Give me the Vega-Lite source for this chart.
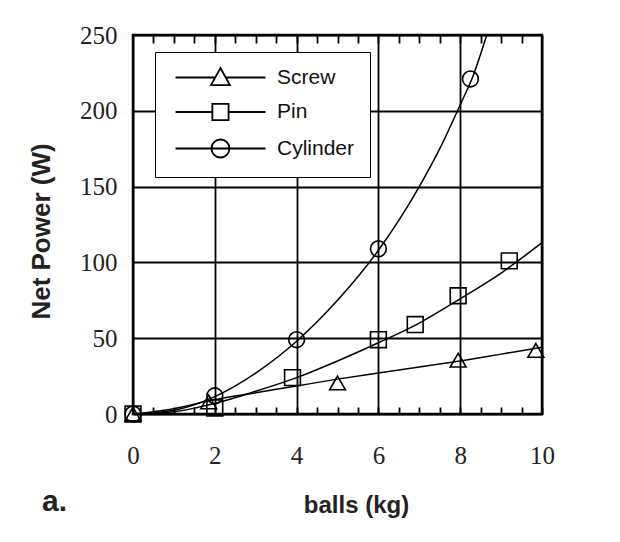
{
  "$schema": "https://vega.github.io/schema/vega-lite/v6.json",
  "autosize": {"type": "none"},
  "padding": {"left": 133, "top": 35, "right": 78, "bottom": 128},
  "width": 409,
  "height": 379,
  "background": "white",
  "title": {"text": "a.", "orient": "bottom", "anchor": "start", "frame": "group", "dx": -91, "offset": -30, "font": "Liberation Sans", "fontSize": 30, "fontWeight": "bold", "color": "#222"},
  "config": {
    "view": {"stroke": "black", "strokeWidth": 2.5},
    "axis": {"gridColor": "black", "gridWidth": 1.8, "domain": false, "labelFont": "Liberation Serif", "labelFontSize": 25, "labelColor": "#222", "titleFont": "Liberation Sans", "titleFontSize": 24, "titleFontWeight": "bold", "titleColor": "#222", "tickColor": "black", "tickWidth": 1.8}
  },
  "datasets": {
    "curves": [
      {"series": "Screw", "x": 0, "y": 0}, {"series": "Screw", "x": 1, "y": 3.5}, {"series": "Screw", "x": 2, "y": 9.5}, {"series": "Screw", "x": 3, "y": 14}, {"series": "Screw", "x": 4, "y": 18.5}, {"series": "Screw", "x": 5, "y": 23}, {"series": "Screw", "x": 6, "y": 27}, {"series": "Screw", "x": 7, "y": 31}, {"series": "Screw", "x": 8, "y": 35}, {"series": "Screw", "x": 9, "y": 39.5}, {"series": "Screw", "x": 10, "y": 44},
      {"series": "Pin", "x": 0, "y": 0}, {"series": "Pin", "x": 1, "y": 1.5}, {"series": "Pin", "x": 2, "y": 7}, {"series": "Pin", "x": 3, "y": 15}, {"series": "Pin", "x": 4, "y": 24}, {"series": "Pin", "x": 5, "y": 35}, {"series": "Pin", "x": 6, "y": 47}, {"series": "Pin", "x": 7, "y": 60}, {"series": "Pin", "x": 8, "y": 76}, {"series": "Pin", "x": 9, "y": 93}, {"series": "Pin", "x": 10, "y": 113},
      {"series": "Cylinder", "x": 0, "y": 0}, {"series": "Cylinder", "x": 1, "y": 2.5}, {"series": "Cylinder", "x": 2, "y": 11.5}, {"series": "Cylinder", "x": 3, "y": 27}, {"series": "Cylinder", "x": 4, "y": 48}, {"series": "Cylinder", "x": 5, "y": 75}, {"series": "Cylinder", "x": 6, "y": 108}, {"series": "Cylinder", "x": 7, "y": 150}, {"series": "Cylinder", "x": 7.5, "y": 175}, {"series": "Cylinder", "x": 8, "y": 204}, {"series": "Cylinder", "x": 8.3, "y": 222}, {"series": "Cylinder", "x": 8.65, "y": 250}
    ],
    "points": [
      {"series": "Screw", "x": 0, "y": 0}, {"series": "Screw", "x": 1.85, "y": 8}, {"series": "Screw", "x": 5, "y": 20.5}, {"series": "Screw", "x": 7.95, "y": 35.5}, {"series": "Screw", "x": 9.85, "y": 42},
      {"series": "Pin", "x": 0, "y": 0}, {"series": "Pin", "x": 2, "y": 4}, {"series": "Pin", "x": 3.9, "y": 24}, {"series": "Pin", "x": 6, "y": 49}, {"series": "Pin", "x": 6.9, "y": 59}, {"series": "Pin", "x": 7.95, "y": 78}, {"series": "Pin", "x": 9.2, "y": 101},
      {"series": "Cylinder", "x": 0, "y": 0}, {"series": "Cylinder", "x": 2, "y": 12}, {"series": "Cylinder", "x": 4, "y": 49}, {"series": "Cylinder", "x": 6, "y": 109}, {"series": "Cylinder", "x": 8.25, "y": 221}
    ]
  },
  "layer": [
    {
      "data": {"name": "curves"},
      "mark": {"type": "line", "color": "black", "strokeWidth": 1.5, "interpolate": "monotone"},
      "encoding": {
        "x": {"field": "x", "type": "quantitative", "scale": {"domain": [0, 10], "nice": false},
          "axis": {"orient": "bottom", "title": "balls (kg)", "values": [0,0.5,1,1.5,2,2.5,3,3.5,4,4.5,5,5.5,6,6.5,7,7.5,8,8.5,9,9.5,10],
            "labelExpr": "datum.value % 2 === 0 ? format(datum.value, 'd') : ''", "labelOverlap": false, "labelFlush": false, "labelPadding": 36, "tickSize": -7,
            "grid": true, "gridOpacity": {"condition": {"test": "datum.value % 2 === 0", "value": 1}, "value": 0},
            "titleX": 223, "titleY": 91, "titleBaseline": "middle", "titleAnchor": "middle"}},
        "y": {"field": "y", "type": "quantitative", "scale": {"domain": [0, 250], "nice": false},
          "axis": {"orient": "left", "values": [0, 50, 100, 150, 200, 250], "grid": true, "ticks": false, "labelPadding": 16, "title": "Net Power (W)",
            "titleX": -92, "titleY": 196, "titleBaseline": "middle", "titleAngle": -90, "titleAnchor": "middle", "titleFontSize": 26}},
        "detail": {"field": "series"}
      }
    },
    {
      "data": {"name": "points"},
      "mark": {"type": "point", "filled": false, "color": "black", "strokeWidth": 1.6, "size": 250, "opacity": 1},
      "encoding": {
        "x": {"field": "x", "type": "quantitative",
          "axis": {"orient": "top", "values": [0.5,1,1.5,2,2.5,3,3.5,4,4.5,5,5.5,6,6.5,7,7.5,8,8.5,9,9.5], "labels": false, "grid": false, "tickSize": -8, "title": null}},
        "y": {"field": "y", "type": "quantitative", "axis": null},
        "shape": {"field": "series", "type": "nominal", "scale": {"domain": ["Screw", "Pin", "Cylinder"], "range": ["triangle-up", "square", "circle"]}, "legend": null}
      }
    },
    {
      "data": {"name": "points"},
      "mark": {"type": "point", "filled": false, "color": "black", "opacity": 0, "size": 324},
      "encoding": {
        "x": {"field": "x", "type": "quantitative", "axis": null},
        "y": {"field": "y", "type": "quantitative", "axis": null},
        "shape": {"field": "series", "type": "nominal",
          "scale": {"domain": ["Screw", "Pin", "Cylinder"], "range": [
            "M-0.55,0H3.86M5.02,0H9.44M4.44,-1.05L5.49,0.85L3.39,0.85Z",
            "M-0.55,0H3.54M5.34,0H9.44M3.54,-0.9H5.34V0.9H3.54Z",
            "M-0.55,0H9.44M5.44,0A1,1 0 1,1 3.44,0A1,1 0 1,1 5.44,0Z"]},
          "legend": {"title": null, "orient": "none", "legendX": 22, "legendY": 17, "padding": 15, "symbolSize": 324, "symbolOpacity": 1,
            "symbolStrokeColor": "black", "symbolStrokeWidth": 1.8, "symbolFillColor": "transparent",
            "labelFont": "Liberation Sans", "labelFontSize": 21, "labelColor": "#111", "labelOffset": 86, "rowPadding": 10.5,
            "strokeColor": "black", "fillColor": "white",
            "encode": {"legend": {"update": {"strokeWidth": {"value": 2}}}}}}
      }
    }
  ],
  "resolve": {"scale": {"shape": "independent"}, "legend": {"shape": "independent"}, "axis": {"x": "independent", "y": "independent"}}
}
